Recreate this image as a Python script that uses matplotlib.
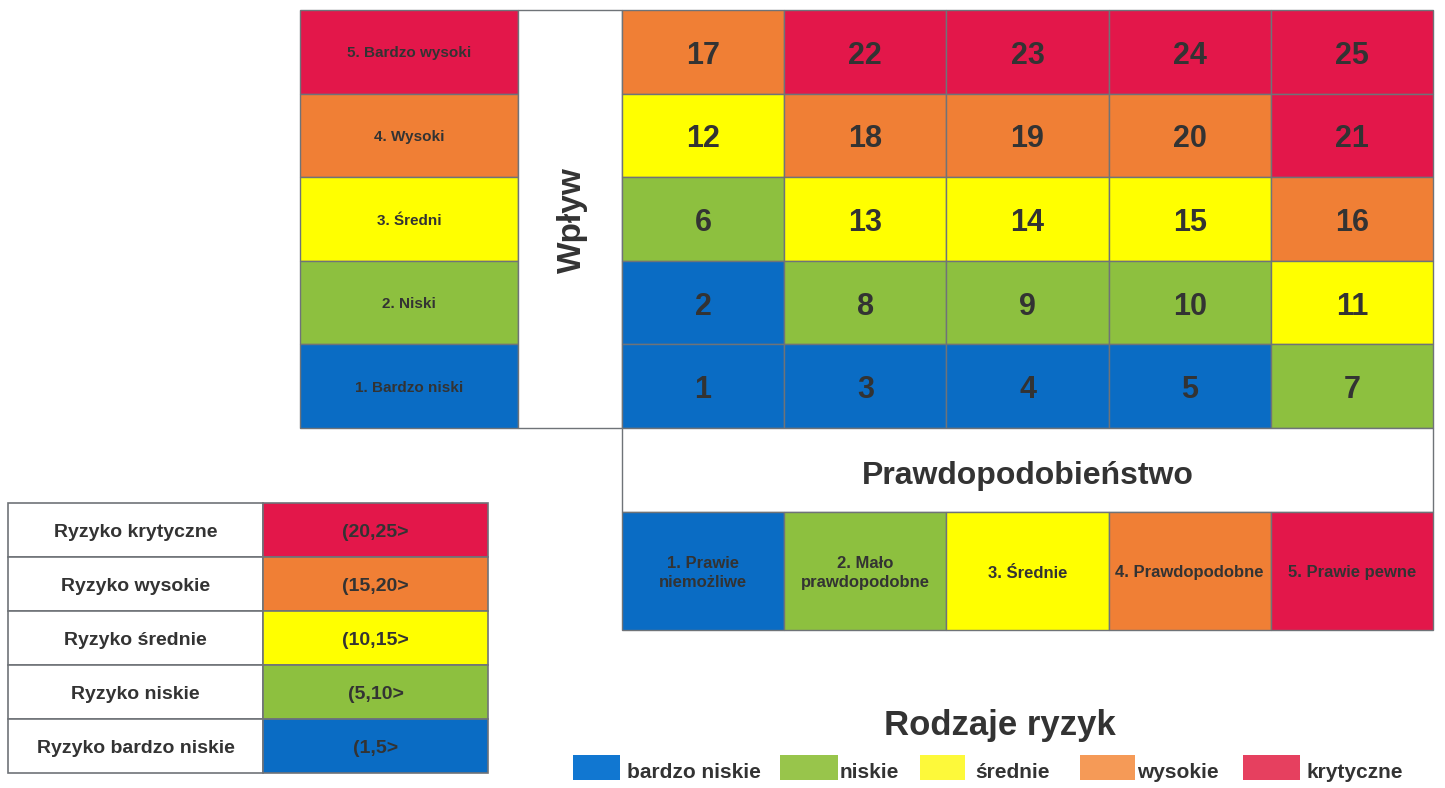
import matplotlib
matplotlib.use("Agg")
import matplotlib.pyplot as plt
from matplotlib.patches import Rectangle

plt.rcParams['font.family'] = ['Liberation Sans', 'DejaVu Sans']

# ---------------- data ----------------
impact_labels = ["5. Bardzo wysoki", "4. Wysoki", "3. Średni", "2. Niski", "1. Bardzo niski"]
impact_levels = [5, 4, 3, 2, 1]
prob_labels = ["1. Prawie\nniemożliwe", "2. Mało\nprawdopodobne", "3. Średnie",
               "4. Prawdopodobne", "5. Prawie pewne"]
prob_levels = [1, 2, 3, 4, 5]
matrix_values = [
    [17, 22, 23, 24, 25],
    [12, 18, 19, 20, 21],
    [6, 13, 14, 15, 16],
    [2, 8, 9, 10, 11],
    [1, 3, 4, 5, 7],
]
risk_names = ["Ryzyko krytyczne", "Ryzyko wysokie", "Ryzyko średnie",
              "Ryzyko niskie", "Ryzyko bardzo niskie"]
risk_ranges = ["(20,25>", "(15,20>", "(10,15>", "(5,10>", "(1,5>"]
risk_upper = [25, 20, 15, 10, 5]
legend_title = "Rodzaje ryzyk"
legend_labels = ["bardzo niskie", "niskie", "średnie", "wysokie", "krytyczne"]

# ---------------- style ----------------
level_colors = {1: '#0a6cc4', 2: '#8dc03f', 3: '#ffff00', 4: '#f07f35', 5: '#e3174a'}
legend_colors = ['#1177d1', '#98c54b', '#fdf93a', '#f59a57', '#e6405f']
txt = '#333333'
edge = '#6f7378'


def value_level(v):
    for lvl, up in zip([1, 2, 3, 4, 5], sorted(risk_upper)):
        if v <= up:
            return lvl
    return 5


fig = plt.figure(figsize=(14.45, 7.88), dpi=100)
ax = fig.add_axes([0, 0, 1, 1])
ax.set_xlim(0, 1445)
ax.set_ylim(788, 0)
ax.axis('off')


def ctext(x, y, s, size, **kw):
    # vertically centre capital letters on y (y axis inverted, pixel units)
    cap = 0.72 * size * 100 / 72
    ax.text(x, y + cap / 2, s, ha=kw.pop('ha', 'center'), va='baseline', fontsize=size,
            fontweight='bold', color=txt, **kw)


# layout
top, rh = 10, 83.6
lab_x0, lab_w = 300, 218
wp_x0, wp_w = 518, 104
mx_x0, cw = 622, 162.2

# impact labels
for i, (lab, lvl) in enumerate(zip(impact_labels, impact_levels)):
    y = top + i * rh
    ax.add_patch(Rectangle((lab_x0, y), lab_w, rh, facecolor=level_colors[lvl],
                           edgecolor=edge, lw=1))
    ctext(lab_x0 + lab_w / 2, y + rh / 2, lab, 11)

# Wpływ column
ax.add_patch(Rectangle((wp_x0, top), wp_w, 5 * rh, facecolor='white', edgecolor=edge, lw=1))
ax.text(wp_x0 + wp_w / 2 + 2, 220, "Wpływ", rotation=90, ha='center',
        va='center', fontsize=24, fontweight='bold', color=txt)

# matrix
for i, row in enumerate(matrix_values):
    for j, v in enumerate(row):
        x = mx_x0 + j * cw
        y = top + i * rh
        ax.add_patch(Rectangle((x, y), cw, rh, facecolor=level_colors[value_level(v)],
                               edgecolor=edge, lw=1))
        ctext(x + cw / 2, y + rh / 2 + 1, str(v), 22)

# Prawdopodobieństwo header
py0 = top + 5 * rh
ax.add_patch(Rectangle((mx_x0, py0), 5 * cw, 84, facecolor='white', edgecolor=edge, lw=1))
ctext(mx_x0 + 2.5 * cw, py0 + 44, "Prawdopodobieństwo", 23)

# probability labels
ply = py0 + 84
for j, (lab, lvl) in enumerate(zip(prob_labels, prob_levels)):
    x = mx_x0 + j * cw
    ax.add_patch(Rectangle((x, ply), cw, 118, facecolor=level_colors[lvl],
                           edgecolor=edge, lw=1))
    ax.text(x + cw / 2, ply + 61, lab, ha='center', va='center', fontsize=12,
            fontweight='bold', color=txt, linespacing=1.3)

# left table
tx0, tsplit, tx1, ty0, trh = 8, 263, 488, 503, 54
for i, (name, rng) in enumerate(zip(risk_names, risk_ranges)):
    y = ty0 + i * trh
    lvl = 5 - i
    ax.add_patch(Rectangle((tx0, y), tsplit - tx0, trh, facecolor='white', edgecolor=edge, lw=1.2))
    ax.add_patch(Rectangle((tsplit, y), tx1 - tsplit, trh, facecolor=level_colors[lvl],
                           edgecolor=edge, lw=1.2))
    ctext((tx0 + tsplit) / 2, y + trh / 2, name, 14)
    ctext((tsplit + tx1) / 2, y + trh / 2, rng, 14)

# legend
ctext(1000, 722, legend_title, 25)
patch_x = [573, 780, 920, 1080, 1243]
patch_w = [47, 58, 45, 55, 57]
text_x = [627, 840, 975, 1137, 1307]
for px, pw, tx, lab, col in zip(patch_x, patch_w, text_x, legend_labels, legend_colors):
    ax.add_patch(Rectangle((px, 755), pw, 25, facecolor=col, edgecolor='none'))
    ctext(tx, 770, lab, 15, ha='left')

fig.savefig('out.png', dpi=100, facecolor='white')
